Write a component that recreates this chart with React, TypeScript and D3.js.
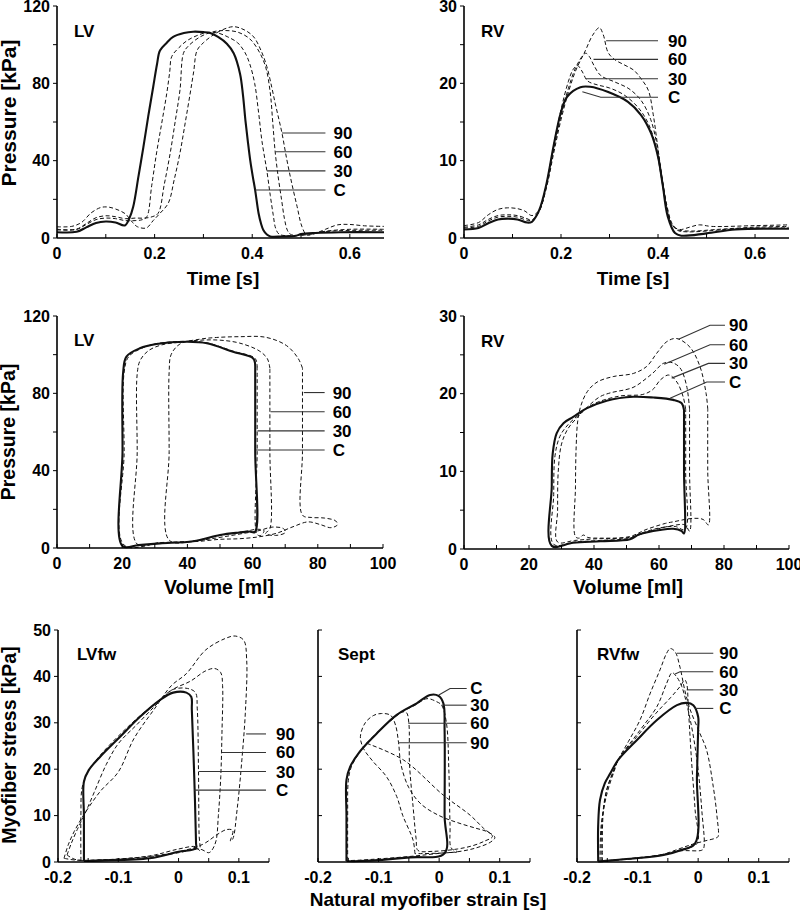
import React from 'react';
import * as d3 from 'd3';

type Pt = [number, number];
type Leader = [string, Pt[]];

const seriesNames = ['C', '30', '60', '90'];

// LV pressure [kPa] vs time [s]
const lvTimeC: Pt[] = [[0,3],[0.04,3.2],[0.06,5.5],[0.08,7.8],[0.1,8.5],[0.12,8],[0.139,6.5],[0.148,10],[0.156,16],[0.167,32],[0.177,47],[0.187,63],[0.197,78],[0.205,90],[0.211,97],[0.225,101],[0.238,104],[0.26,106],[0.279,106.7],[0.3,106.5],[0.314,106],[0.33,104],[0.348,100.5],[0.362,95.6],[0.375,85],[0.381,74],[0.386,61],[0.391,50],[0.396,40],[0.401,32],[0.406,24.8],[0.413,12.8],[0.418,7.5],[0.423,4],[0.43,1.8],[0.437,0.8],[0.46,0.8],[0.49,1.2],[0.5,2],[0.53,2.6],[0.58,3],[0.67,3]];
const lvTime30: Pt[] = [[0,4.2],[0.04,4.4],[0.06,7],[0.08,9.5],[0.1,10.3],[0.12,10],[0.14,9],[0.16,9],[0.175,9.5],[0.184,11],[0.194,27],[0.204,44],[0.215,60],[0.225,75],[0.231,86],[0.235,93.8],[0.25,98.5],[0.266,102],[0.285,104.5],[0.307,106.3],[0.33,106],[0.35,104],[0.37,101],[0.385,96],[0.395,90],[0.405,80],[0.413,65],[0.42,50],[0.43,34.7],[0.437,22],[0.443,12],[0.448,5],[0.455,2],[0.47,1.2],[0.5,1.5],[0.53,2.8],[0.58,3.8],[0.67,4]];
const lvTime60: Pt[] = [[0,4.5],[0.04,4.6],[0.06,7.5],[0.08,10.5],[0.1,11.5],[0.12,11],[0.14,10],[0.16,10.3],[0.18,10.3],[0.195,11],[0.207,12.7],[0.22,28],[0.232,44],[0.242,60],[0.252,76.6],[0.259,95.5],[0.268,99],[0.293,104],[0.32,106.7],[0.345,107.3],[0.37,106.5],[0.395,103],[0.415,96],[0.428,88],[0.437,75],[0.442,60],[0.447,44.6],[0.453,32],[0.46,20],[0.466,10],[0.472,4],[0.478,2],[0.49,1.3],[0.52,2],[0.55,3.5],[0.6,4.5],[0.67,4.5]];
const lvTime90: Pt[] = [[0,5.8],[0.03,6],[0.05,8],[0.07,13],[0.09,15.8],[0.105,16],[0.12,15],[0.14,12.5],[0.155,8],[0.165,5.8],[0.183,5.2],[0.197,9],[0.21,12.5],[0.228,18],[0.24,30],[0.252,44],[0.263,60],[0.273,75],[0.28,86],[0.287,97],[0.3,101],[0.32,105],[0.34,107.8],[0.362,109.3],[0.385,107.5],[0.403,104],[0.418,97],[0.43,88.6],[0.44,78],[0.447,69.7],[0.455,61],[0.461,54.2],[0.471,40.4],[0.481,28.3],[0.492,16.2],[0.502,5.8],[0.512,1.5],[0.525,2],[0.55,4.5],[0.575,6.8],[0.6,7],[0.63,6.3],[0.67,6]];
const lvTimeLeaders: Leader[] = [
  ['90', [[0.461,54.3],[0.55,54.3]]],
  ['60', [[0.447,44.6],[0.55,44.6]]],
  ['30', [[0.43,34.7],[0.55,34.7]]],
  ['C', [[0.406,24.8],[0.55,24.8]]],
];

// RV pressure [kPa] vs time [s]
const rvTimeC: Pt[] = [[0,1.1],[0.03,1.3],[0.05,1.9],[0.07,2.4],[0.09,2.5],[0.11,2.4],[0.13,2.0],[0.14,2.1],[0.155,3.6],[0.17,7],[0.185,12],[0.2,16.3],[0.213,18.3],[0.24,19.5],[0.26,19.55],[0.296,18.9],[0.338,17.6],[0.365,15.9],[0.386,13.5],[0.4,10.5],[0.41,6.7],[0.42,2.8],[0.435,0.64],[0.448,0.3],[0.5,0.6],[0.56,1.1],[0.67,1.2]];
const rvTime30: Pt[] = [[0,1.3],[0.03,1.5],[0.05,2.2],[0.07,2.7],[0.09,2.8],[0.11,2.7],[0.13,2.3],[0.14,2.3],[0.155,3.5],[0.17,7],[0.185,12],[0.2,16.6],[0.215,20.2],[0.225,21.8],[0.234,22.3],[0.243,21.6],[0.255,20.3],[0.275,19.8],[0.3,19.4],[0.33,18.5],[0.36,16.8],[0.38,14.8],[0.395,12],[0.405,8.5],[0.415,4.8],[0.425,2.2],[0.44,1.0],[0.46,0.8],[0.5,0.9],[0.56,1.2],[0.67,1.3]];
const rvTime60: Pt[] = [[0,1.4],[0.03,1.7],[0.05,2.4],[0.07,2.9],[0.09,3.0],[0.11,2.9],[0.13,2.5],[0.14,2.3],[0.155,3.4],[0.17,6.8],[0.185,11.5],[0.2,15.8],[0.215,19.3],[0.23,22],[0.245,23.6],[0.251,23.9],[0.258,23.5],[0.268,22.3],[0.282,21],[0.31,20.2],[0.34,19.3],[0.365,17.8],[0.385,15.3],[0.398,12],[0.408,8],[0.418,4.3],[0.428,2],[0.44,1.1],[0.47,0.9],[0.52,1.1],[0.6,1.4],[0.67,1.5]];
const rvTime90: Pt[] = [[0,1.6],[0.03,2.0],[0.05,3.0],[0.07,3.7],[0.09,3.9],[0.11,3.8],[0.125,3.5],[0.14,2.9],[0.155,3.6],[0.17,6.5],[0.185,11],[0.2,15.3],[0.215,18.8],[0.23,21.6],[0.25,24.2],[0.265,26.2],[0.279,27.2],[0.287,26.3],[0.297,24],[0.31,23.1],[0.33,22.4],[0.35,21.7],[0.365,20.6],[0.38,19.1],[0.39,16],[0.4,11.5],[0.41,7],[0.42,3.5],[0.43,1.6],[0.445,1.1],[0.465,1.4],[0.485,1.7],[0.51,1.5],[0.6,1.6],[0.67,1.7]];
const rvTimeLeaders: Leader[] = [
  ['90', [[0.293,25.5],[0.4,25.5]]],
  ['60', [[0.267,23.1],[0.4,23.1]]],
  ['30', [[0.251,20.6],[0.4,20.6]]],
  ['C', [[0.244,18.9],[0.282,18.2],[0.4,18.2]]],
];

// LV pressure-volume loops [ml, kPa]
const lvLoopC: Pt[] = [[60.8,94],[60.2,98],[54,101.5],[46,105.9],[40,106.7],[30.5,105.5],[25.4,103.3],[21.3,99],[20.3,91],[20.1,50],[20.1,1],[25,1.5],[31.6,2.4],[41.8,3.5],[50,6.7],[56,8],[59,8.5],[60.7,8.2],[60.8,50],[60.8,94]];
const lvLoop30: Pt[] = [[61.4,93],[60.8,98],[54,101.8],[46,106.1],[40,106.9],[30.5,105.7],[26,103.3],[22,99],[20.6,91],[20.6,50],[20.6,1.5],[31.6,2.6],[41.8,3.6],[50,6.5],[58,8.7],[61.5,9.7],[63.5,9],[62.5,6.5],[61.4,7],[61.4,50],[61.4,93]];
const lvLoop60: Pt[] = [[65.3,93],[64.5,98],[62,102],[56,106],[50,107.5],[44,107.5],[38,106.5],[32,105],[28,102],[25.5,97],[24.6,90],[24.6,50],[24.6,2],[31.6,2.8],[41.8,3.5],[50,5.5],[57,7.5],[62,9],[66,10.8],[69.5,10],[70,8],[67,6.5],[64,7.5],[65.3,10],[65.3,50],[65.3,93]];
const lvLoop90: Pt[] = [[75.3,93],[74,98],[70.4,104.7],[64,109],[56,109.3],[49,108.9],[43.8,108],[37.7,105.5],[35,100],[34.4,91],[34.4,50],[34.4,4.1],[41.8,3.3],[50,4.5],[56,4.8],[62,5.8],[67.3,7.6],[72.4,11],[77,13.5],[81,12],[84,10.5],[86,12],[85.5,14],[82,15.5],[78,15.8],[75.3,17],[75.3,50],[75.3,93]];
const lvLoopLeaders: Leader[] = [
  ['90', [[75.7,80.4],[82.1,80.4]]],
  ['60', [[65.5,70.5],[82.1,70.5]]],
  ['30', [[61.5,60.6],[82.1,60.6]]],
  ['C', [[61,50.7],[82.1,50.7]]],
];

// RV pressure-volume loops [ml, kPa]
const rvLoopC: Pt[] = [[67.7,17.9],[66.9,18.8],[64.4,19.2],[58.3,19.5],[52.1,19.6],[43.9,19.1],[37.7,18.1],[33.6,17],[30.6,16.2],[28.5,14.9],[27.3,12.3],[27,8],[27,0.4],[33.6,0.8],[42,1.0],[51.1,1.25],[54,1.9],[60.3,2.45],[64.4,2.6],[67,2.3],[67.7,2.0],[67.7,10],[67.7,17.9]];
const rvLoop30: Pt[] = [[68.2,18],[67.5,19.5],[65.5,21.5],[63,22.4],[60.5,21.8],[58,20.5],[55,19.9],[48,19.7],[40,18.7],[36,17.5],[32,16],[29.5,14.5],[28,12],[27.6,7],[27.6,0.6],[34,0.9],[42,1.1],[51,1.4],[55,2.1],[60,2.7],[65,2.9],[68,2.5],[68.2,10],[68.2,18]];
const rvLoop60: Pt[] = [[69.4,18],[68.5,21],[66.5,23.3],[64,24],[61.3,23.9],[58.5,22.8],[56.2,22],[52,20.8],[45,20.1],[41.8,19.6],[38,18.3],[35,17],[32,15.5],[30,13.5],[29,10],[28.8,5],[28.8,0.9],[34,1.1],[40,1.3],[51,1.5],[58,2.4],[64,3.0],[68,3.1],[69.4,2.3],[69.4,10],[69.4,18]];
const rvLoop90: Pt[] = [[75,18],[74.5,20],[72.6,23.5],[69.5,26],[65.4,27.1],[62.4,26.7],[59.3,25.2],[56.2,23.5],[52.1,22.6],[45.9,22.2],[41,21.5],[38,20.3],[36,18.5],[35,16.5],[34.5,13],[34.3,8],[34.3,1.6],[35.5,1.4],[36.7,1.8],[38,1.5],[42,1.4],[51,1.6],[56,2.5],[62,3.3],[64.4,3.5],[70.6,3.95],[73.6,3.8],[75.2,3.1],[75,10],[75,18]];
const rvLoopLeaders: Leader[] = [
  ['90', [[66,27],[75.7,28.8],[80.3,28.8]]],
  ['60', [[61.6,23.8],[75.7,26.3],[80.3,26.3]]],
  ['30', [[63.9,22],[75.2,23.9],[80.3,23.9]]],
  ['C', [[63.4,19.4],[74.7,21.5],[80.3,21.5]]],
];

// LV free wall stress [kPa] vs natural strain
const lvfwC: Pt[] = [[-0.157,0.2],[-0.157,10],[-0.157,17.3],[-0.149,19.8],[-0.13,22.7],[-0.097,27],[-0.064,31.3],[-0.031,34.9],[-0.009,36.5],[0.013,36.5],[0.021,35.6],[0.022,32.8],[0.026,18.4],[0.029,4],[0.029,3],[0.0,2.2],[-0.048,0.8],[-0.13,0.3],[-0.157,0.2]];
const lvfw30: Pt[] = [[-0.162,0.3],[-0.162,10],[-0.16,16],[-0.15,19.5],[-0.13,23],[-0.097,27.5],[-0.064,31.5],[-0.031,35],[-0.009,37.2],[0.015,37.4],[0.028,36.5],[0.031,33],[0.033,20],[0.034,6],[0.035,2.5],[0.028,3.3],[0.0,2.8],[-0.048,1.3],[-0.13,0.4],[-0.162,0.3]];
const lvfw60: Pt[] = [[-0.185,1.5],[-0.178,4],[-0.168,7],[-0.155,10.5],[-0.14,15],[-0.12,21],[-0.1,25.5],[-0.07,29.5],[-0.04,33.5],[-0.012,37],[0.02,39],[0.045,41.2],[0.06,41.7],[0.07,40.8],[0.073,38],[0.072,28],[0.07,18.4],[0.066,10],[0.062,4.5],[0.055,2.5],[0.05,2],[0.035,2.8],[0,2],[-0.05,1],[-0.12,0.5],[-0.17,0.5],[-0.185,1.5]];
const lvfw90: Pt[] = [[-0.19,0.8],[-0.183,3.7],[-0.173,6.6],[-0.157,10.2],[-0.13,15.2],[-0.1,19.4],[-0.074,26.6],[-0.04,33],[-0.012,38],[0.013,40.6],[0.045,45.7],[0.078,48.2],[0.094,48.7],[0.108,47.8],[0.113,43.5],[0.111,32.8],[0.105,22],[0.097,11.2],[0.09,5],[0.086,4.5],[0.09,6.8],[0.08,7],[0.065,6],[0.04,3.8],[0.0,2.2],[-0.05,1.2],[-0.12,0.5],[-0.17,0.4],[-0.19,0.8]];
const lvfwLeaders: Leader[] = [
  ['90', [[0.112,27.6],[0.145,27.6]]],
  ['60', [[0.071,23.6],[0.145,23.6]]],
  ['30', [[0.034,19.5],[0.145,19.5]]],
  ['C', [[0.026,15.5],[0.145,15.5]]],
];

// Septum
const septC: Pt[] = [[-0.153,0.2],[-0.153,10],[-0.153,17.7],[-0.147,20.5],[-0.131,23.8],[-0.103,27.7],[-0.07,31.7],[-0.037,34.2],[-0.015,36],[-0.001,35.8],[0.007,34.2],[0.009,28.4],[0.009,10],[0.009,1.9],[-0.048,1.0],[-0.131,0.2],[-0.153,0.2]];
const sept30: Pt[] = [[-0.151,0.3],[-0.151,10],[-0.15,17.5],[-0.145,20.5],[-0.131,23.6],[-0.103,27.6],[-0.07,31.6],[-0.04,33.8],[-0.02,35.2],[-0.005,34.6],[0.004,33.8],[0.012,30],[0.016,20],[0.018,8],[0.02,3],[0.03,2.2],[0.01,2.0],[-0.048,1.2],[-0.131,0.4],[-0.151,0.3]];
const sept60: Pt[] = [[-0.12,25.6],[-0.103,27.8],[-0.075,31],[-0.062,32.3],[-0.054,32.2],[-0.05,29.9],[-0.049,21.3],[-0.043,11.9],[-0.038,5],[-0.035,2.5],[-0.01,2.3],[0.03,2.8],[0.055,3.5],[0.075,4.5],[0.088,5.5],[0.073,7.3],[0.051,10.1],[0.007,14.4],[-0.059,22],[-0.12,25.6]];
const sept90: Pt[] = [[-0.04,1.8],[-0.043,4.7],[-0.06,10],[-0.07,14.1],[-0.087,18.4],[-0.11,21.8],[-0.125,24.5],[-0.13,27],[-0.122,30],[-0.108,31.6],[-0.095,32],[-0.08,31.6],[-0.072,29.5],[-0.067,25.7],[-0.063,21],[-0.05,16],[-0.03,12.5],[0.0,10],[0.03,8.5],[0.06,7.3],[0.08,6.5],[0.092,5.3],[0.085,4.3],[0.06,3],[0.03,2.2],[0.0,1.9],[-0.04,1.8]];
const septLeaders: Leader[] = [
  ['C', [[-0.0005,36],[0.018,37.4],[0.0455,37.4]]],
  ['30', [[0.004,33.8],[0.0455,33.8]]],
  ['60', [[-0.051,29.9],[0.0455,29.9]]],
  ['90', [[-0.067,25.7],[0.0455,25.7]]],
];

// RV free wall
const rvfwC: Pt[] = [[-0.165,0.1],[-0.165,8],[-0.162,13.4],[-0.154,17],[-0.145,19.1],[-0.132,22],[-0.101,26.3],[-0.068,30.6],[-0.035,33.8],[-0.019,34.3],[-0.008,33.8],[0.0,31.3],[0.0,28.5],[-0.002,18.4],[-0.005,4],[-0.03,2.5],[-0.057,1.5],[-0.112,0.7],[-0.156,0.2],[-0.165,0.1]];
const rvfw30: Pt[] = [[-0.158,0.2],[-0.157,10],[-0.15,16],[-0.14,19.5],[-0.132,22],[-0.1,27.2],[-0.07,32],[-0.045,35.5],[-0.03,37.8],[-0.022,39.2],[-0.019,38.5],[-0.016,32.8],[-0.011,22],[-0.005,11.2],[-0.002,4],[-0.03,2.6],[-0.06,1.6],[-0.11,0.8],[-0.158,0.2]];
const rvfw60: Pt[] = [[-0.162,0.2],[-0.16,8],[-0.15,15],[-0.138,19.8],[-0.132,22],[-0.096,28.4],[-0.068,33.5],[-0.052,38.5],[-0.043,40.8],[-0.036,40],[-0.027,37.8],[-0.013,30.6],[-0.002,22],[0.006,11.2],[0.009,2.9],[0.005,2.5],[-0.03,2.4],[-0.06,1.5],[-0.11,0.7],[-0.162,0.2]];
const rvfw90: Pt[] = [[-0.16,0.2],[-0.159,8],[-0.152,15],[-0.14,19.5],[-0.132,22],[-0.115,26],[-0.096,30.6],[-0.079,36.4],[-0.063,41.4],[-0.052,45],[-0.046,46],[-0.038,45.3],[-0.03,42],[-0.022,37],[-0.013,32.8],[0.003,27.7],[0.014,24.1],[0.025,16.2],[0.031,10],[0.033,5.5],[0.03,5.2],[0.01,4.5],[-0.01,3.8],[-0.03,2.9],[-0.06,1.6],[-0.11,0.7],[-0.16,0.2]];
const rvfwLeaders: Leader[] = [
  ['90', [[-0.035,45],[0.025,45]]],
  ['60', [[-0.038,40.5],[-0.03,41],[0.025,41]]],
  ['30', [[-0.019,37.1],[0.025,37.1]]],
  ['C', [[-0.005,33.1],[0.025,33.1]]],
];

// ticks
const timeTicks = [0, 0.1, 0.2, 0.3, 0.4, 0.5, 0.6];
const timeLabels = [0, 0.2, 0.4, 0.6];
const volTicks = [0, 10, 20, 30, 40, 50, 60, 70, 80, 90, 100];
const volLabels = [0, 20, 40, 60, 80, 100];
const strainTicks = [-0.2, -0.15, -0.1, -0.05, 0, 0.05, 0.1, 0.15];
const strainLabels = [-0.2, -0.1, 0, 0.1];
const lvPTicks = [0, 20, 40, 60, 80, 100, 120];
const lvPLabels = [0, 40, 80, 120];
const rvPTicks = [0, 5, 10, 15, 20, 25, 30];
const rvPLabels = [0, 10, 20, 30];
const stressTicks = [0, 10, 20, 30, 40, 50];

const font = 'Liberation Sans, Arial, Helvetica, sans-serif';

type PanelCfg = {
  left: number; top: number; width: number; height: number;
  xDomain: [number, number]; yDomain: [number, number];
  xTicks: number[]; xLabels: number[];
  yTicks: number[]; yLabels: number[]; yTicksInside?: boolean;
  series: Pt[][]; leaders: Leader[]; labelGap: number;
  name: string; nameX: number; nameY: number;
};

const fmt = (v: number) => String(+v.toFixed(2));

function Panel({ cfg }: { cfg: PanelCfg }) {
  const x = d3.scaleLinear().domain(cfg.xDomain).range([cfg.left, cfg.left + cfg.width]);
  const y = d3.scaleLinear().domain(cfg.yDomain).range([cfg.top + cfg.height, cfg.top]);
  const smooth = d3.line<Pt>().x(d => x(d[0])).y(d => y(d[1])).curve(d3.curveCatmullRom.alpha(0.5));
  const straight = d3.line<Pt>().x(d => x(d[0])).y(d => y(d[1]));
  const x0 = cfg.left;
  const y0 = cfg.top + cfg.height;
  // draw dashed series first, control (solid) last
  const order = [3, 2, 1, 0];
  return (
    <g>
      {order.map(i => (
        <path key={seriesNames[i]} d={smooth(cfg.series[i]) || ''} fill="none" stroke="#111"
          strokeWidth={i === 0 ? 2.1 : 1}
          strokeDasharray={i === 0 ? undefined : '4 2.5'} />
      ))}
      {cfg.leaders.map(([label, pts]) => {
        const end = pts[pts.length - 1];
        return (
          <g key={label}>
            <path d={straight(pts) || ''} fill="none" stroke="#333" strokeWidth={1.1} />
            <text x={x(end[0]) + cfg.labelGap} y={y(end[1]) + 6} fontSize={17} fontWeight="bold" fontFamily={font}>{label}</text>
          </g>
        );
      })}
      <line x1={x0} x2={x0} y1={cfg.top} y2={y0} stroke="#000" strokeWidth={1.6} />
      <line x1={x0} x2={cfg.left + cfg.width} y1={y0} y2={y0} stroke="#000" strokeWidth={1.6} />
      {cfg.yTicks.map(t => (
        <line key={'yt' + t} x1={cfg.yTicksInside ? x0 : x0 - 4} x2={cfg.yTicksInside ? x0 + 4 : x0}
          y1={y(t)} y2={y(t)} stroke="#000" strokeWidth={1} />
      ))}
      {cfg.yLabels.map(t => (
        <text key={'yl' + t} x={x0 - 7} y={y(t) + 5.5} textAnchor="end" fontSize={16} fontWeight="bold" fontFamily={font}>{fmt(t)}</text>
      ))}
      {cfg.xTicks.map(t => (
        <line key={'xt' + t} x1={x(t)} x2={x(t)} y1={y0} y2={y0 - 4} stroke="#000" strokeWidth={1} />
      ))}
      {cfg.xLabels.map(t => (
        <text key={'xl' + t} x={x(t)} y={y0 + 21} textAnchor="middle" fontSize={16} fontWeight="bold" fontFamily={font}>{fmt(t)}</text>
      ))}
      <text x={cfg.nameX} y={cfg.nameY} fontSize={17} fontWeight="bold" fontFamily={font}>{cfg.name}</text>
    </g>
  );
}

const panels: PanelCfg[] = [
  { left: 57, top: 6, width: 327, height: 232, xDomain: [0, 0.67], yDomain: [0, 120],
    xTicks: timeTicks, xLabels: timeLabels, yTicks: lvPTicks, yLabels: lvPLabels,
    series: [lvTimeC, lvTime30, lvTime60, lvTime90], leaders: lvTimeLeaders, labelGap: 8,
    name: 'LV', nameX: 74, nameY: 37 },
  { left: 464, top: 6, width: 325, height: 232, xDomain: [0, 0.67], yDomain: [0, 30],
    xTicks: timeTicks, xLabels: timeLabels, yTicks: rvPTicks, yLabels: rvPLabels,
    series: [rvTimeC, rvTime30, rvTime60, rvTime90], leaders: rvTimeLeaders, labelGap: 10,
    name: 'RV', nameX: 481, nameY: 37 },
  { left: 57, top: 316, width: 326, height: 232, xDomain: [0, 100], yDomain: [0, 120],
    xTicks: volTicks, xLabels: volLabels, yTicks: lvPTicks, yLabels: lvPLabels,
    series: [lvLoopC, lvLoop30, lvLoop60, lvLoop90], leaders: lvLoopLeaders, labelGap: 8,
    name: 'LV', nameX: 74, nameY: 346 },
  { left: 464, top: 316, width: 325, height: 233, xDomain: [0, 100], yDomain: [0, 30],
    xTicks: volTicks, xLabels: volLabels, yTicks: rvPTicks, yLabels: rvPLabels,
    series: [rvLoopC, rvLoop30, rvLoop60, rvLoop90], leaders: rvLoopLeaders, labelGap: 4,
    name: 'RV', nameX: 481, nameY: 347 },
  { left: 58, top: 630, width: 211, height: 232, xDomain: [-0.2, 0.15], yDomain: [0, 50],
    xTicks: strainTicks, xLabels: strainLabels, yTicks: stressTicks, yLabels: stressTicks,
    series: [lvfwC, lvfw30, lvfw60, lvfw90], leaders: lvfwLeaders, labelGap: 10,
    name: 'LVfw', nameX: 77, nameY: 660 },
  { left: 318, top: 630, width: 212, height: 232, xDomain: [-0.2, 0.15], yDomain: [0, 50],
    xTicks: strainTicks, xLabels: strainLabels, yTicks: stressTicks.slice(1), yLabels: [], yTicksInside: true,
    series: [septC, sept30, sept60, sept90], leaders: septLeaders, labelGap: 3.5,
    name: 'Sept', nameX: 338, nameY: 660 },
  { left: 577, top: 630, width: 212, height: 232, xDomain: [-0.2, 0.15], yDomain: [0, 50],
    xTicks: strainTicks, xLabels: strainLabels, yTicks: stressTicks.slice(1), yLabels: [], yTicksInside: true,
    series: [rvfwC, rvfw30, rvfw60, rvfw90], leaders: rvfwLeaders, labelGap: 6,
    name: 'RVfw', nameX: 597, nameY: 660 },
];

export default function App() {
  const title = { fontWeight: 'bold' as const, fontFamily: font };
  return (
    <svg width={800} height={915} style={{ position: 'absolute', left: 0, top: 0, background: '#fff' }}>
      <rect width={800} height={915} fill="#fff" />
      {panels.map((p, i) => <Panel key={i} cfg={p} />)}
      <text transform="translate(15.5,113) rotate(-90)" textAnchor="middle" fontSize={21} {...title}>Pressure [kPa]</text>
      <text transform="translate(15,432) rotate(-90)" textAnchor="middle" fontSize={19.5} {...title}>Pressure [kPa]</text>
      <text transform="translate(15.5,745) rotate(-90)" textAnchor="middle" fontSize={19.5} {...title}>Myofiber stress [kPa]</text>
      <text x={223} y={285} textAnchor="middle" fontSize={19} {...title}>Time [s]</text>
      <text x={633} y={285} textAnchor="middle" fontSize={19} {...title}>Time [s]</text>
      <text x={219} y={594} textAnchor="middle" fontSize={19.5} {...title}>Volume [ml]</text>
      <text x={628} y={594} textAnchor="middle" fontSize={19.5} {...title}>Volume [ml]</text>
      <text x={428} y={906} textAnchor="middle" fontSize={19} {...title}>Natural myofiber strain [s]</text>
    </svg>
  );
}
